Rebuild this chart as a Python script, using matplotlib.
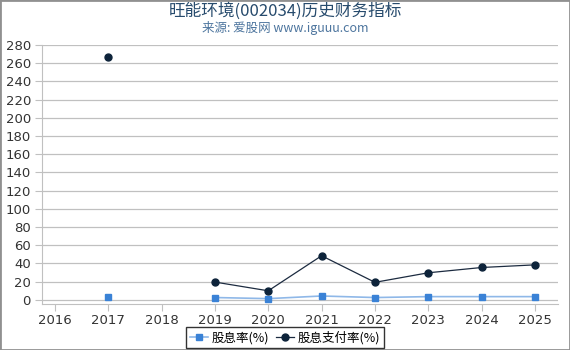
import numpy as np
import matplotlib
matplotlib.use("Agg")
from matplotlib import pyplot as plt
from matplotlib.patches import Rectangle

plt.rcParams['font.family'] = ['DejaVu Sans', 'Noto Sans CJK SC']

years = [2016, 2017, 2018, 2019, 2020, 2021, 2022, 2023, 2024, 2025]
div_yield = [np.nan, 2.9, np.nan, 2.6, 1.4, 4.3, 2.6, 3.6, 3.6, 3.6]
payout = [np.nan, 267.0, np.nan, 19.6, 10.0, 48.5, 19.3, 29.8, 35.6, 38.5]

fig = plt.figure(figsize=(5.7, 3.5), dpi=100)
ax = fig.add_axes([42 / 570, 46 / 350, 516 / 570, 259 / 350])

ax.plot(years, div_yield, color='#8fb8e8', lw=1.2, marker='s', ms=5,
        mfc='#3a82d6', mec='#3a82d6', label='股息率(%)', zorder=3)
ax.plot(years, payout, color='#1c2b40', lw=0.9, marker='o', ms=5,
        mfc='#0d233a', mec='#0d233a', label='股息支付率(%)', zorder=4)

ax.set_xlim(2015.76, 2025.43)
ax.set_ylim(-4.5, 280)
ax.set_yticks(range(0, 281, 20))
ax.set_xticks(years)
ax.grid(axis='y', color='#c0c0c0', lw=0.9)
for s in ['top', 'right']:
    ax.spines[s].set_visible(False)
ax.spines['left'].set_color('#c0c0c0')
ax.spines['bottom'].set_color('#c0c0c0')
ax.tick_params(axis='y', colors='#c0c0c0', labelcolor='#333333', labelsize=9.5, length=5, pad=3)
ax.tick_params(axis='x', colors='#c0c0c0', labelcolor='#333333', labelsize=9.5, length=5, pad=2)

fig.text(0.5, 0.967, '旺能环境(002034)历史财务指标', ha='center', va='center',
         fontsize=12, color='#274b6d', family=['Noto Sans CJK SC', 'DejaVu Sans'])
fig.text(0.5, 0.92, '来源: 爱股网 www.iguuu.com', ha='center', va='center',
         fontsize=9, color='#4d759e', family=['Noto Sans CJK SC', 'DejaVu Sans'])

leg = fig.legend(loc='center', bbox_to_anchor=(0.5, 0.035), ncol=2, frameon=True,
                 handlelength=1.4, handletextpad=0.3, columnspacing=0.6,
                 borderpad=0.3, fancybox=False,
                 prop={'family': ['Noto Sans CJK SC', 'DejaVu Sans'], 'size': 9})
leg.get_frame().set_edgecolor('#000000')
leg.get_frame().set_linewidth(1.0)

fig.patches.append(Rectangle((0, 0), 1, 1, transform=fig.transFigure, fill=False,
                             edgecolor='#909090', lw=2))

fig.savefig('out.png', dpi=100)
